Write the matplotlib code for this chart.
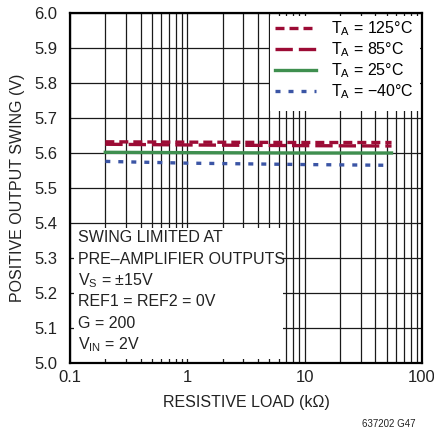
import numpy as np
import matplotlib
matplotlib.use('Agg')
import matplotlib.pyplot as plt
from matplotlib.patches import Rectangle
from matplotlib.ticker import FixedLocator, NullFormatter

plt.rcParams['font.family'] = ['Liberation Sans', 'DejaVu Sans']
plt.rcParams['mathtext.default'] = 'regular'

# resistive load (kOhm) and output swing (V)
load = [0.2, 1, 10, 55]
load_cold = [0.2, 1, 10, 48]
swing_125 = [5.632, 5.631, 5.630, 5.630]
swing_85 = [5.625, 5.623, 5.621, 5.620]
swing_25 = [5.602, 5.601, 5.600, 5.600]
swing_m40 = [5.576, 5.571, 5.567, 5.565]

xticks = [0.1, 1, 10, 100]
xtick_labels = ['0.1', '1', '10', '100']
yticks = np.round(np.arange(5.0, 6.01, 0.1), 1)

red = '#9c0b35'
green = '#3f8f4f'
blue = '#3b55a5'
fs = 11.5

fig = plt.figure(figsize=(4.34, 4.34), dpi=100)
ax = fig.add_axes([70 / 434, 71 / 434, 352 / 434, 350 / 434])

ax.set_xscale('log')
ax.set_xlim(0.1, 100)
ax.set_ylim(5.0, 6.0)
ax.set_xticks(xticks)
ax.set_xticklabels(xtick_labels)
ax.xaxis.set_minor_locator(FixedLocator([m * d for d in (0.1, 1, 10) for m in range(2, 10)]))
ax.xaxis.set_minor_formatter(NullFormatter())
ax.set_yticks(yticks)
ax.set_yticklabels(['%.1f' % v for v in yticks])
ax.tick_params(which='both', length=0, labelsize=12, colors='#222222')
ax.tick_params(axis='x', pad=5)
ax.tick_params(axis='y', pad=9)
ax.grid(which='major', color='#1a1a1a', lw=0.9)
ax.grid(which='minor', axis='x', color='#1a1a1a', lw=0.9)
for s in ax.spines.values():
    s.set_linewidth(1.6)
    s.set_zorder(5)

# white boxes for the notes and the legend
ax.add_patch(Rectangle((0.011, 0.011), 0.594, 0.375, transform=ax.transAxes,
                       facecolor='white', edgecolor='none', zorder=2.7))
ax.add_patch(Rectangle((0.568, 0.72), 0.426, 0.271, transform=ax.transAxes,
                       facecolor='white', edgecolor='none', zorder=2.7))

ax.plot(load, swing_125, color=red, lw=2.4, dashes=(2.7, 1.5), label='$T_A$ = 125°C', zorder=3)
ax.plot(load, swing_85, color=red, lw=2.4, dashes=(5.2, 1.8), label='$T_A$ = 85°C', zorder=3)
ax.plot(load, swing_25, color=green, lw=2.4, label='$T_A$ = 25°C', zorder=3)
ax.plot(load_cold, swing_m40, color=blue, lw=2.4, dashes=(1.5, 2.4), label='$T_A$ = −40°C', zorder=3)

leg = ax.legend(loc='upper right', frameon=False, fontsize=fs, handlelength=2.6,
                handletextpad=0.9, labelspacing=0.15, borderaxespad=0.0,
                bbox_to_anchor=(0.993, 1.0))
leg.set_zorder(6)

notes = ['SWING LIMITED AT', 'PRE–AMPLIFIER OUTPUTS', '$V_S$ = ±15V',
         'REF1 = REF2 = 0V', 'G = 200', '$V_{IN}$ = 2V']
for i, line in enumerate(notes):
    ax.text(0.022, 0.358 - i * 0.061, line, transform=ax.transAxes, fontsize=fs,
            color='#222222', va='center', ha='left', zorder=6)

ax.set_xlabel('RESISTIVE LOAD (kΩ)', fontsize=fs, color='#222222', labelpad=7)
ax.set_ylabel('POSITIVE OUTPUT SWING (V)', fontsize=fs, color='#222222', labelpad=7)
fig.text(415 / 434, 1 - 424 / 434, '637202 G47', fontsize=7, ha='right', va='center', color='#222222')

fig.savefig('out.png', dpi=100)
